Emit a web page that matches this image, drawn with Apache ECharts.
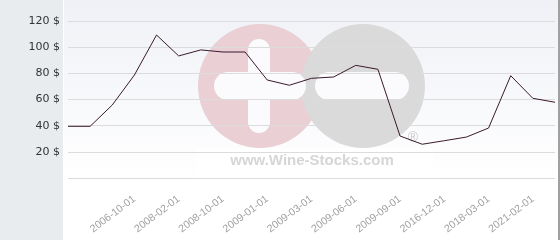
<!DOCTYPE html>
<html>
<head>
<meta charset="utf-8">
<script src="https://cdn.jsdelivr.net/npm/echarts@6/dist/echarts.min.js"></script>
<style>html,body{margin:0;padding:0;background:#fff}#c{width:560px;height:240px}</style>
</head>
<body>
<div id="c"></div>
<script>
var categories = ['', '', '', '2006-10-01', '', '2008-02-01', '', '2008-10-01', '', '2009-01-01', '', '2009-03-01', '', '2009-06-01', '', '2009-09-01', '', '2016-12-01', '', '2018-03-01', '', '2021-02-01', ''];
var prices = [39.5, 39.5, 55.8, 78.7, 109.3, 93.3, 97.9, 96.3, 96.3, 74.9, 70.9, 76.2, 77.2, 86.1, 83.1, 32.1, 25.8, 28.5, 31.3, 38.2, 78.2, 60.9, 57.9];
var yTicks = {min: 0, max: 120, step: 20, suffix: ' $'};

var chart = echarts.init(document.getElementById('c'), null, {renderer: 'canvas'});
chart.setOption({
  animation: false,
  backgroundColor: '#ffffff',
  graphic: [
    {type: 'rect', z: -10, shape: {x: 0, y: 0, width: 63, height: 240}, style: {fill: '#e8ecef'}},
    {type: 'rect', z: -10, shape: {x: 64, y: 0, width: 494, height: 240},
      style: {fill: new echarts.graphic.LinearGradient(0, 0, 0, 1, [{offset: 0, color: '#eff1f6'}, {offset: 0.75, color: '#ffffff'}, {offset: 1, color: '#ffffff'}])}},
    {type: 'rect', z: -10, shape: {x: 558, y: 0, width: 2, height: 240}, style: {fill: '#a0a0a0'}},
    {type: 'rect', z: -9, shape: {x: 197, y: 148, width: 236, height: 30}, style: {fill: 'rgba(255,255,255,0.7)'}},
    {type: 'circle', z: -8, shape: {cx: 260, cy: 86, r: 62}, style: {fill: '#eacfd5'}},
    {type: 'circle', z: -8, shape: {cx: 363, cy: 86, r: 62}, style: {fill: '#dadada'}},
    {type: 'rect', z: -7, shape: {x: 248, y: 39, width: 22, height: 94, r: 11}, style: {fill: '#fbfbfd'}},
    {type: 'rect', z: -7, shape: {x: 214, y: 72, width: 92, height: 28, r: 14}, style: {fill: '#fbfbfd'}},
    {type: 'rect', z: -7, shape: {x: 315, y: 72, width: 94, height: 28, r: 14}, style: {fill: '#fbfbfd'}},
    {type: 'text', z: -7, x: 413, y: 138, style: {text: '®', font: '14px "Liberation Sans", Arial', fill: '#c8c8c8', align: 'center', verticalAlign: 'middle'}},
    {type: 'text', z: -7, x: 312, y: 161, style: {text: 'www.Wine-Stocks.com', font: 'bold 15px "Liberation Sans", Arial', fill: '#d6d6d6', align: 'center', verticalAlign: 'middle'}}
  ],
  grid: {left: 68, right: 5, top: 21, bottom: 62, containLabel: false},
  xAxis: {
    type: 'category',
    data: categories,
    boundaryGap: false,
    axisLine: {show: false},
    axisTick: {show: false},
    splitLine: {show: false},
    axisLabel: {interval: 0, rotate: 37, margin: 20, color: '#a0a0a0', fontSize: 10.5, fontFamily: '"Liberation Sans", Arial'}
  },
  yAxis: {
    type: 'value',
    min: yTicks.min, max: yTicks.max, interval: yTicks.step,
    axisLine: {show: false},
    axisTick: {show: false},
    splitLine: {lineStyle: {color: '#dcdcdc', width: 1}},
    axisLabel: {margin: 8, color: '#333', fontSize: 11, fontFamily: '"DejaVu Sans"',
      formatter: function (v) { return v === 0 ? '' : v + yTicks.suffix; }}
  },
  series: [{
    type: 'line',
    data: prices,
    symbol: 'none',
    lineStyle: {color: '#3a1a2c', width: 1},
    z: 5
  }]
});
</script>
</body>
</html>
